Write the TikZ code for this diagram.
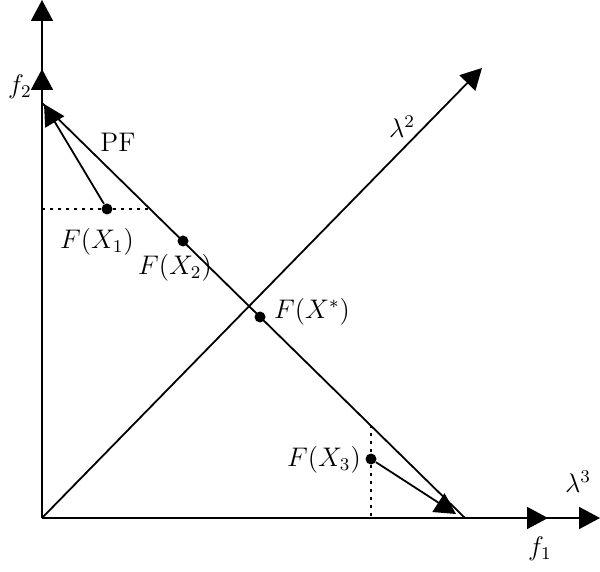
\documentclass[tikz,border=0pt]{standalone}
\usetikzlibrary{arrows.meta}
\newcommand{\mylbl}[1]{\scalebox{1.12}{\large #1}}
\begin{document}
\begin{tikzpicture}[x=0.5pt,y=-0.5pt,
  ln/.style={line width=0.9pt},
  tip/.style={-{Triangle[length=10.5pt,width=11pt]}},
  dot/.style={circle,fill=black,inner sep=0pt,minimum size=5.5pt},
  dotline/.style={line width=0.7pt,dash pattern=on 1.6pt off 2.4pt},
  lab/.style={inner sep=0pt}]
\useasboundingbox (0,0) rectangle (600,572);
% coordinates
\coordinate (O) at (42,518);
\coordinate (ytop) at (42,0);
\coordinate (ymid) at (42,69);
\coordinate (xend) at (600,518);
\coordinate (xmid) at (548,518);
\coordinate (ltip) at (482,68);
\coordinate (pfa) at (42,103);
\coordinate (pfb) at (465,518);
\coordinate (a1) at (44,104);
\coordinate (a3) at (456,514);
\coordinate (h1) at (152,209);
\coordinate (h0) at (42,209);
\coordinate (v1) at (371,425);
\coordinate (v0) at (371,518);
% axes
\draw[ln,tip] (O) -- (ytop);
\draw[ln,tip] (O) -- (ymid);
\draw[ln,tip] (O) -- (xend);
\draw[ln,tip] (O) -- (xmid);
\draw[ln,tip] (O) -- (ltip);
% PF line
\draw[ln] (pfa) -- (pfb);
% points
\node[dot] (p1) at (107,209) {};
\node[dot] (p2) at (183,241) {};
\node[dot] (ps) at (260,317) {};
\node[dot] (p3) at (371,459) {};
% dotted
\draw[dotline] (h0) -- (p1) -- (h1);
\draw[dotline] (v1) -- (p3) -- (v0);
% arrows
\draw[ln,tip] (p1) -- (a1);
\draw[ln,tip] (p3) -- (a3);
% labels
\node[lab] (lf2) at (20,87) {\mylbl{$f_2$}};
\node[lab] (lf1) at (540,549) {\mylbl{$f_1$}};
\node[lab] (ll3) at (578,482) {\mylbl{$\lambda^3$}};
\node[lab] (ll2) at (402,127) {\mylbl{$\lambda^2$}};
\node[lab] (lpf) at (118,142) {\mylbl{PF}};
\node[lab] (l1) at (97,242) {\mylbl{$F(X_1)$}};
\node[lab] (l2) at (175,268) {\mylbl{$F(X_2)$}};
\node[lab] (ls) at (312,312) {\mylbl{$F(X^{*})$}};
\node[lab] (l3) at (324,460) {\mylbl{$F(X_3)$}};
\end{tikzpicture}
\end{document}
